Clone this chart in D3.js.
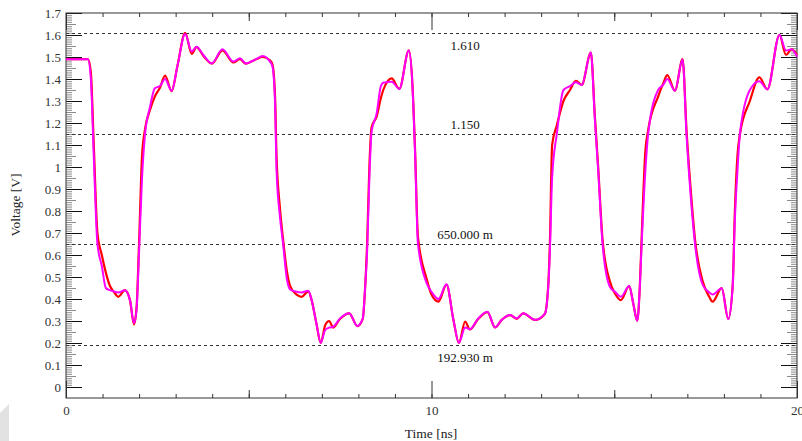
<!DOCTYPE html>
<html>

<head>
  <meta charset="utf-8">
  <title>Voltage vs time</title>
  <script src="https://d3js.org/d3.v7.min.js"></script>
  <style>
    body { margin: 0; background: #fff; }
    text { font-family: "Liberation Serif", "Times New Roman", serif; }
  </style>
</head>

<body>

  <script>
    var width = 802;
    var height = 441;

    // time samples [ns], shared by both traces
    var time = [0, 0.6, 0.68, 0.76, 0.86, 0.98, 1.09, 1.2, 1.3, 1.43, 1.61, 1.75, 1.86, 1.93, 2.0, 2.08, 2.16, 2.3, 2.43, 2.57,
      2.71, 2.89, 3.05, 3.26, 3.44, 3.57, 3.76, 3.99, 4.28, 4.58, 4.76, 4.92, 5.2, 5.38, 5.58, 5.65, 5.72, 5.76, 5.85, 5.94,
      6.04, 6.13, 6.31, 6.45, 6.63, 6.72, 6.85, 6.97, 7.09, 7.2, 7.31, 7.5, 7.75, 7.97, 8.12, 8.18, 8.24, 8.3, 8.36, 8.5,
      8.61, 8.68, 8.91, 9.12, 9.38, 9.48, 9.55, 9.63, 9.87, 10.0, 10.19, 10.41, 10.6, 10.75, 10.92, 11.05, 11.28, 11.53, 11.74, 11.92,
      12.15, 12.33, 12.51, 12.83, 13.1, 13.2, 13.24, 13.3, 13.43, 13.61, 13.79, 13.95, 14.11, 14.36, 14.47, 14.56, 14.68, 14.88, 15.02, 15.18,
      15.41, 15.52, 15.63, 15.7, 15.75, 15.85, 15.93, 16.2, 16.34, 16.45, 16.66, 16.87, 16.98, 17.1, 17.21, 17.42, 17.6, 17.69, 17.94, 18.12,
      18.24, 18.3, 18.37, 18.44, 18.71, 18.97, 19.19, 19.52, 19.7, 19.85, 20];

    // magenta trace [V]
    var vMagenta = [1.49, 1.49, 1.40, 1.05, 0.65, 0.55, 0.45, 0.44, 0.435, 0.43, 0.44, 0.395, 0.29, 0.35, 0.62, 0.95, 1.145, 1.274, 1.358, 1.368,
      1.40, 1.347, 1.46, 1.605, 1.525, 1.547, 1.509, 1.471, 1.535, 1.479, 1.494, 1.471, 1.49, 1.505, 1.479, 1.456, 1.29, 0.986, 0.78, 0.65,
      0.494, 0.444, 0.433, 0.43, 0.438, 0.395, 0.29, 0.201, 0.259, 0.27, 0.274, 0.312, 0.335, 0.277, 0.312, 0.441, 0.623, 0.95, 1.16, 1.244,
      1.365, 1.383, 1.388, 1.355, 1.529, 1.365, 1.062, 0.65, 0.471, 0.433, 0.40, 0.467, 0.305, 0.201, 0.27, 0.262, 0.312, 0.342, 0.271, 0.305,
      0.327, 0.312, 0.335, 0.305, 0.332, 0.471, 0.623, 0.95, 1.153, 1.35, 1.368, 1.385, 1.373, 1.52, 1.214, 0.986, 0.65, 0.456, 0.433, 0.41,
      0.459, 0.38, 0.301, 0.456, 0.65, 0.98, 1.153, 1.35, 1.373, 1.40, 1.347, 1.489, 1.138, 0.85, 0.65, 0.464, 0.43, 0.42, 0.449, 0.309,
      0.456, 0.76, 0.98, 1.153, 1.35, 1.39, 1.353, 1.60, 1.53, 1.535, 1.501];

    // red trace [V]
    var vRed = [1.49, 1.49, 1.43, 1.10, 0.70, 0.60, 0.52, 0.46, 0.435, 0.41, 0.44, 0.395, 0.285, 0.36, 0.66, 1.05, 1.17, 1.26, 1.32, 1.36,
      1.415, 1.345, 1.46, 1.61, 1.514, 1.545, 1.505, 1.47, 1.53, 1.475, 1.49, 1.47, 1.49, 1.50, 1.485, 1.465, 1.32, 1.05, 0.82, 0.67,
      0.53, 0.46, 0.42, 0.41, 0.435, 0.395, 0.29, 0.20, 0.28, 0.30, 0.27, 0.31, 0.335, 0.277, 0.31, 0.44, 0.66, 1.0, 1.18, 1.23,
      1.31, 1.35, 1.403, 1.355, 1.53, 1.37, 1.08, 0.68, 0.49, 0.42, 0.388, 0.465, 0.305, 0.20, 0.297, 0.262, 0.31, 0.34, 0.271, 0.305,
      0.327, 0.31, 0.335, 0.305, 0.332, 0.48, 0.66, 1.10, 1.19, 1.30, 1.35, 1.392, 1.373, 1.52, 1.23, 1.0, 0.67, 0.48, 0.425, 0.395,
      0.459, 0.38, 0.301, 0.46, 0.68, 1.07, 1.17, 1.32, 1.38, 1.418, 1.347, 1.49, 1.16, 0.88, 0.67, 0.48, 0.41, 0.388, 0.449, 0.309,
      0.46, 0.80, 1.05, 1.15, 1.30, 1.407, 1.353, 1.60, 1.509, 1.535, 1.51];

    // horizontal markers
    var markerValues = [1.610, 1.150, 0.650, 0.19293];
    var markerLabels = ["1.610", "1.150", "650.000 m", "192.930 m"];
    var markerBelow = [true, false, false, true];

    var yTickValues = d3.range(0, 18).map(function (i) { return i / 10; });
    var xTickValues = [0, 10, 20];

    var svg = d3.select("body").append("svg").attr("width", width).attr("height", height);

    var x = d3.scaleLinear().domain([0, 20]).range([66, 797]);
    var y = d3.scaleLinear().domain([-0.05, 1.7]).range([398, 13]);

    // grey shape at the bottom left corner
    svg.append("polygon")
      .attr("points", "0,413 9,404 9,441 0,441")
      .attr("fill", "#e2e2e2");

    // minor ticks
    var yMinor = d3.range(0, 171).map(function (i) { return i / 100; });
    var yMid = d3.range(0, 17).map(function (i) { return i / 10 + 0.05; });
    var xMinor = d3.range(0, 21);

    function tickAxis(axis, pos, values, size, color) {
      var g = svg.append("g")
        .attr("transform", pos)
        .call(axis.tickValues(values).tickSize(size).tickSizeOuter(0).tickFormat(""));
      g.select(".domain").remove();
      g.selectAll("line").attr("stroke", color);
      return g;
    }

    tickAxis(d3.axisLeft(y), "translate(66,0)", yMinor, -6, "#8a8a8a");
    tickAxis(d3.axisLeft(y), "translate(66,0)", yMid, -10, "#8a8a8a");
    tickAxis(d3.axisRight(y), "translate(797,0)", yMinor, -6, "#8a8a8a");
    tickAxis(d3.axisRight(y), "translate(797,0)", yMid, -10, "#8a8a8a");
    tickAxis(d3.axisRight(y), "translate(797,0)", yTickValues, -16, "#111");
    tickAxis(d3.axisBottom(x), "translate(0,398)", xMinor, -4, "#333");
    tickAxis(d3.axisBottom(x), "translate(0,398)", [5, 15], -8, "#333");
    tickAxis(d3.axisTop(x), "translate(0,13)", xMinor, -4, "#333");
    tickAxis(d3.axisTop(x), "translate(0,13)", [5, 15], -8, "#333");
    tickAxis(d3.axisTop(x), "translate(0,13)", xTickValues, -17, "#333");

    // labelled axes
    var gY = svg.append("g")
      .attr("transform", "translate(66,0)")
      .call(d3.axisLeft(y).tickValues(yTickValues).tickSize(-16).tickSizeOuter(0).tickPadding(5)
        .tickFormat(d3.format("~g")));
    gY.select(".domain").remove();
    gY.selectAll("line").attr("stroke", "#111");
    gY.selectAll("text").attr("font-size", 13).attr("fill", "#333")
      .style("font-family", "'Liberation Serif', serif");

    var gX = svg.append("g")
      .attr("transform", "translate(0,398)")
      .call(d3.axisBottom(x).tickValues(xTickValues).tickSize(-17).tickSizeOuter(0).tickPadding(8));
    gX.select(".domain").remove();
    gX.selectAll("line").attr("stroke", "#333");
    gX.selectAll("text").attr("font-size", 13).attr("fill", "#333")
      .style("font-family", "'Liberation Serif', serif");

    // plot frame
    svg.append("rect")
      .attr("x", 66).attr("y", 13)
      .attr("width", 797 - 66).attr("height", 398 - 13)
      .attr("fill", "none")
      .attr("stroke", "#333")
      .attr("stroke-width", 1);

    // marker lines
    svg.selectAll(".marker")
      .data(markerValues)
      .enter()
      .append("line")
      .attr("class", "marker")
      .attr("x1", 66).attr("x2", 797)
      .attr("y1", function (d) { return Math.round(y(d)) + 0.5; })
      .attr("y2", function (d) { return Math.round(y(d)) + 0.5; })
      .attr("stroke", "#333")
      .attr("stroke-dasharray", "3,3");

    svg.selectAll(".marker-label")
      .data(markerValues)
      .enter()
      .append("text")
      .attr("class", "marker-label")
      .attr("x", 465)
      .attr("y", function (d, i) { return y(d) + (markerBelow[i] ? 17 : -5); })
      .attr("text-anchor", "middle")
      .attr("font-size", 13)
      .attr("fill", "#111")
      .text(function (d, i) { return markerLabels[i]; });

    // traces
    var line = function (values) {
      return d3.line()
        .x(function (d, i) { return x(time[i]); })
        .y(function (d) { return y(d); })
        .curve(d3.curveMonotoneX)(values);
    };

    svg.append("path")
      .attr("d", line(vRed))
      .attr("fill", "none")
      .attr("stroke", "#ff0000")
      .attr("stroke-width", 2.2);

    svg.append("path")
      .attr("d", line(vMagenta))
      .attr("fill", "none")
      .attr("stroke", "#ff00ff")
      .attr("stroke-width", 2);

    // axis titles
    svg.append("text")
      .attr("x", 431).attr("y", 438)
      .attr("text-anchor", "middle")
      .attr("font-size", 13.5)
      .attr("fill", "#222")
      .text("Time [ns]");

    svg.append("text")
      .attr("transform", "translate(20,205) rotate(-90)")
      .attr("text-anchor", "middle")
      .attr("font-size", 13.5)
      .attr("fill", "#222")
      .text("Voltage [V]");
  </script>

</body>

</html>
